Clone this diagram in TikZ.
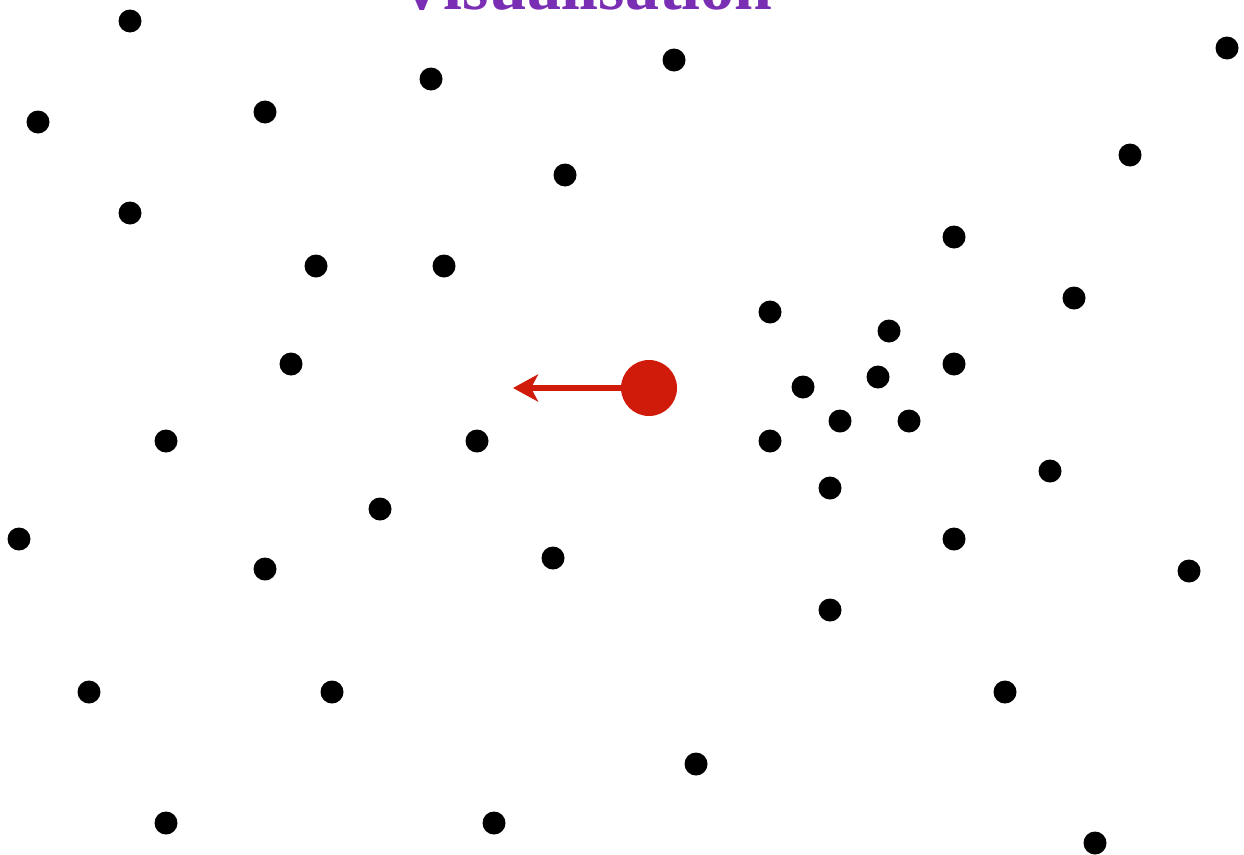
\documentclass[tikz,border=0pt]{standalone}
\usepackage{fontspec}
\setmainfont{Liberation Serif}
\usetikzlibrary{arrows.meta}
\definecolor{titlepurple}{RGB}{122,46,180}
\definecolor{pointred}{RGB}{208,26,10}
\tikzset{
  point/.style={circle,fill=black,inner sep=0pt,minimum size=23pt},
  query/.style={circle,fill=pointred,inner sep=0pt,minimum size=56pt},
}

\begin{document}
\begin{tikzpicture}[x=1pt,y=-1pt,line join=round]
  \clip (0,0) rectangle (1244,854);
  \useasboundingbox (0,0) rectangle (1244,854);
  \node[anchor=base,text=titlepurple,font=\fontsize{68}{68}\selectfont\bfseries]
    (title) at (585,9) {Visualisation};
  % data points
  \foreach \x/\y [count=\i] in {130/21,674/60,1227/48,431/79,38/122,265/112,
      1130/155,565/175,130/213,954/237,316/266,444/266,1074/298,770/312,
      889/331,291/364,954/364,803/387,878/377,840/421,909/421,166/441,
      477/441,770/441,1050/471,830/488,380/509,19/539,954/539,265/569,
      553/558,1189/571,830/610,89/692,332/692,1005/692,696/764,166/823,
      494/823,1095/843}
    \node[point] (p\i) at (\x,\y) {};
  % query point and its move
  \node[query] (q) at (649,388) {};
  \coordinate (qdir) at (513,388);
  \draw[pointred,line width=5.5pt,-{Stealth[length=25pt,width=27pt,inset=7pt]}]
    (q) -- (qdir);
\end{tikzpicture}
\end{document}
